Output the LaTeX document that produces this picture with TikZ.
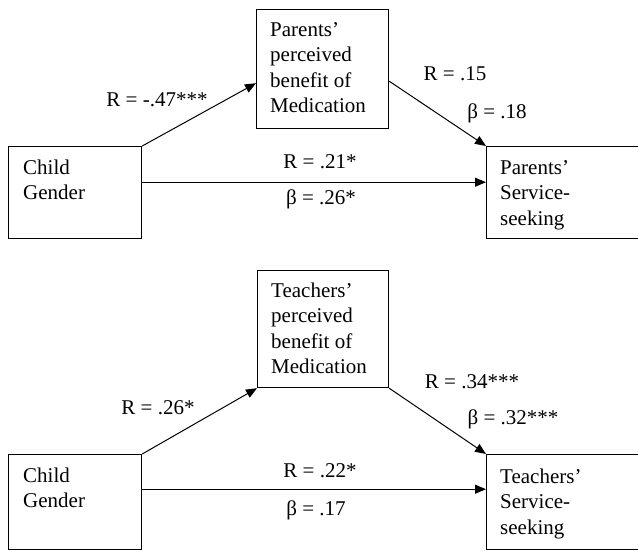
\documentclass[tikz,border=0pt]{standalone}
\usepackage{fontspec}
\setmainfont{Liberation Serif}
\usetikzlibrary{arrows.meta}
\tikzset{box/.style = {draw, line width=1.2pt, inner sep=0pt, anchor=north west}}
\tikzset{txt/.style = {anchor=base west, align=left, inner sep=0pt, font=\fontsize{21}{25.3}\selectfont}}
\tikzset{lbl/.style = {anchor=base, inner sep=0pt, font=\fontsize{21}{25}\selectfont}}
\tikzset{arr/.style = {-{Triangle[length=11pt,width=9pt]}, line width=1pt}}

\begin{document}
\begin{tikzpicture}[x=1pt,y=-1pt]
	\clip (0,0) rectangle (638,550);
	% parents
	\node[box, minimum width=133pt, minimum height=92pt] (childA) at (8,146) {};
	\node[box, minimum width=132pt, minimum height=119pt] (medA) at (256,9) {};
	\node[box, minimum width=170pt, minimum height=92pt] (outA) at (486,146) {};
	\node[txt] (childAt) at (23,199.5) {Child\\Gender};
	\node[txt] (medAt) at (270,112.5) {Parents'\\perceived\\benefit of\\Medication};
	\node[txt] (outAt) at (500,225) {Parents'\\Service-\\seeking};
	\draw[arr] (childA.north east) -- ([yshift=46pt]medA.south west);
	\draw[arr] ([yshift=48pt]medA.south east) -- (outA.north west);
	\draw[arr] ([yshift=57pt]childA.south east) -- ([yshift=57pt]outA.south west);
	\node[lbl] (rA1) at (157,106) {R = -.47***};
	\node[lbl] (rA2) at (455,80) {R = .15};
	\node[lbl] (bA2) at (497,118) {β = .18};
	\node[lbl] (rA3) at (320,168) {R = .21*};
	\node[lbl] (bA3) at (321,204) {β = .26*};
	% teachers
	\node[box, minimum width=133pt, minimum height=95pt] (childB) at (8,454) {};
	\node[box, minimum width=131pt, minimum height=117pt] (medB) at (257,270) {};
	\node[box, minimum width=170pt, minimum height=95pt] (outB) at (486,454) {};
	\node[txt] (childBt) at (23,507.5) {Child\\Gender};
	\node[txt] (medBt) at (271,373.5) {Teachers'\\perceived\\benefit of\\Medication};
	\node[txt] (outBt) at (500,534) {Teachers'\\Service-\\seeking};
	\draw[arr] (childB.north east) -- (medB.south west);
	\draw[arr] (medB.south east) -- (outB.north west);
	\draw[arr] ([yshift=61pt]childB.south east) -- ([yshift=61pt]outB.south west);
	\node[lbl] (rB1) at (158,414) {R = .26*};
	\node[lbl] (rB2) at (472,388) {R = .34***};
	\node[lbl] (bB2) at (513,424) {β = .32***};
	\node[lbl] (rB3) at (320,477) {R = .22*};
	\node[lbl] (bB3) at (316,515) {β = .17};
\end{tikzpicture}
\end{document}
